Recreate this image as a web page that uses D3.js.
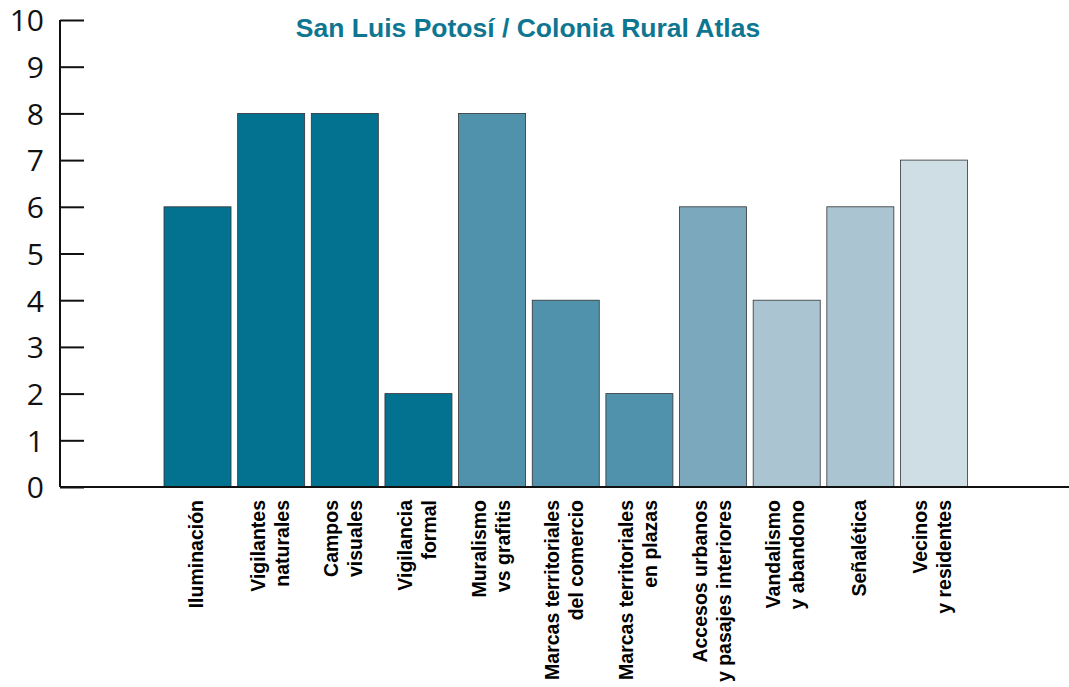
<!DOCTYPE html>
<html>
<head>
<meta charset="utf-8">
<script src="https://cdn.jsdelivr.net/npm/d3@7"></script>
<style>
html,body{margin:0;padding:0;background:#fff;}
svg{display:block;}
</style>
</head>
<body>
<svg id="chart" width="1069" height="687"></svg>
<script>
const title = "San Luis Potosí / Colonia Rural Atlas";
const categories = [
  ["Iluminación"],
  ["Vigilantes", "naturales"],
  ["Campos", "visuales"],
  ["Vigilancia", "formal"],
  ["Muralismo", "vs grafitis"],
  ["Marcas territoriales", "del comercio"],
  ["Marcas territoriales", "en plazas"],
  ["Accesos urbanos", "y pasajes interiores"],
  ["Vandalismo", "y abandono"],
  ["Señalética"],
  ["Vecinos", "y residentes"]
];
const values = [6, 8, 8, 2, 8, 4, 2, 6, 4, 6, 7];
const colors = ["#037290", "#037290", "#037290", "#037290", "#5092AB", "#5092AB", "#5092AB", "#7BA8BC", "#ABC4D2", "#ABC4D2", "#CFDDE5"];
const yTicks = [0, 1, 2, 3, 4, 5, 6, 7, 8, 9, 10];

const svg = d3.select("#chart");
const keys = categories.map((c, i) => i);

const x = d3.scaleBand().domain(keys).range([164, 967.5]).paddingInner(0.09).paddingOuter(0);
const y = d3.scaleLinear().domain([0, 10]).range([487, 20]);

// bars
svg.append("g").selectAll("rect").data(values).join("rect")
  .attr("x", (d, i) => x(i))
  .attr("y", d => y(d))
  .attr("width", x.bandwidth())
  .attr("height", d => y(0) - y(d))
  .attr("fill", (d, i) => colors[i])
  .attr("stroke", "#333")
  .attr("stroke-width", 0.8);

// y axis
const yAxis = d3.axisRight(y).tickValues(yTicks).tickSize(24).tickFormat(d3.format("d"));
const gy = svg.append("g").attr("transform", "translate(60,0)").call(yAxis);
gy.select(".domain").attr("stroke", "#111").attr("stroke-width", 2).attr("d", `M0,${y(10)}V${y(0)}`);
gy.selectAll(".tick line").attr("stroke", "#111").attr("stroke-width", 2);
gy.selectAll(".tick text")
  .attr("x", -16)
  .attr("dy", "0.36em")
  .attr("text-anchor", "end")
  .attr("fill", "#111")
  .style("font-family", "'Open Sans', sans-serif")
  .style("font-size", "30px");

// x axis line
svg.append("line")
  .attr("x1", 60).attr("x2", 1069)
  .attr("y1", y(0)).attr("y2", y(0))
  .attr("stroke", "#111").attr("stroke-width", 2);

// x labels
const lineH = 24;
const lab = svg.append("g");
categories.forEach((lines, i) => {
  const cx = x(i) + x.bandwidth() / 2;
  const n = lines.length;
  lines.forEach((t, j) => {
    const off = (j - (n - 1) / 2) * lineH + 5.5;
    lab.append("text")
      .attr("transform", `translate(${cx + off},500) rotate(-90)`)
      .attr("text-anchor", "end")
      .attr("fill", "#000")
      .style("font-family", "'Liberation Sans', Arial, sans-serif")
      .style("font-weight", "bold")
      .style("font-size", "19.5px")
      .text(t);
  });
});

// title
svg.append("text")
  .attr("x", 528).attr("y", 37)
  .attr("text-anchor", "middle")
  .attr("fill", "#0F7692")
  .style("font-family", "'Liberation Sans', Arial, sans-serif")
  .style("font-weight", "bold")
  .style("font-size", "26.5px")
  .text(title);
</script>
</body>
</html>
